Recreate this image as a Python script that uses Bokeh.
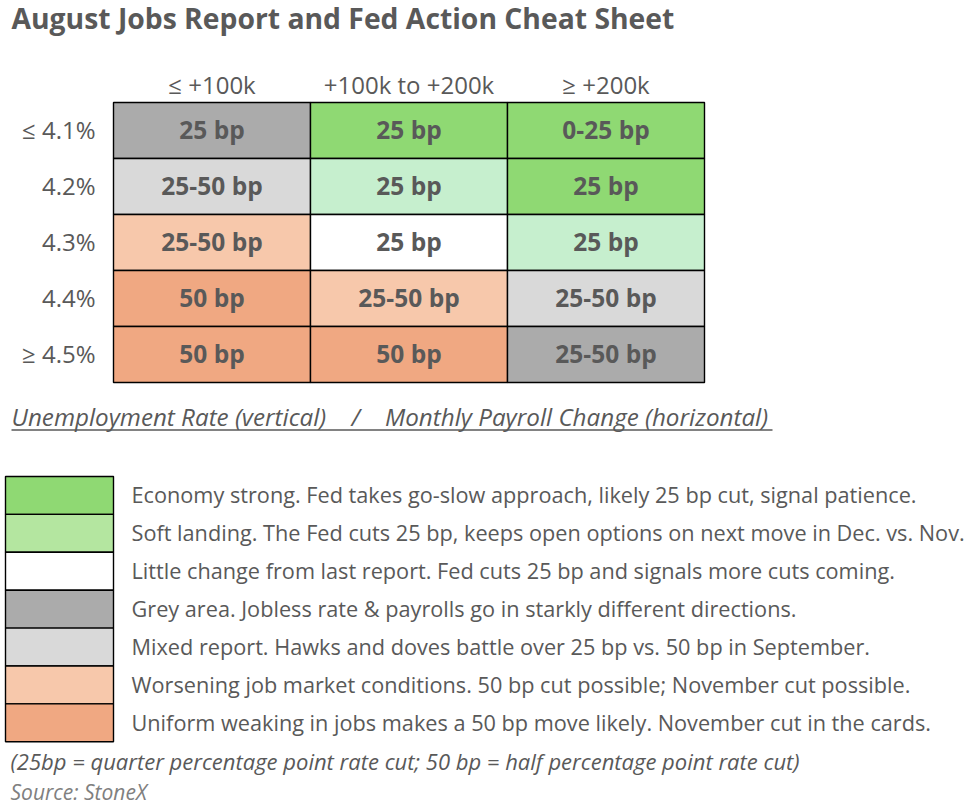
from bokeh.plotting import figure
from bokeh.models import Range1d
from bokeh.embed import file_html
from bokeh.resources import INLINE
from bokeh.core.properties import value

# ---------------- data ----------------
title = "August Jobs Report and Fed Action Cheat Sheet"
payroll_bins = ["\u2264 +100k", "+100k to +200k", "\u2265 +200k"]
rate_bins = ["\u2264 4.1%", "4.2%", "4.3%", "4.4%", "\u2265 4.5%"]
cell_labels = [
    ["25 bp", "25 bp", "0-25 bp"],
    ["25-50 bp", "25 bp", "25 bp"],
    ["25-50 bp", "25 bp", "25 bp"],
    ["50 bp", "25-50 bp", "25-50 bp"],
    ["50 bp", "50 bp", "25-50 bp"],
]
# scenario codes: 0 strong, 1 soft landing, 2 little change, 3 grey area, 4 mixed, 5 worsening, 6 uniform weakening
cell_scenarios = [
    [3, 0, 0],
    [4, 1, 0],
    [5, 2, 1],
    [6, 5, 4],
    [6, 6, 3],
]
table_colors = ["#8fd973", "#c6efce", "#ffffff", "#ababab", "#d9d9d9", "#f7c8ab", "#f0a882"]
legend_colors = ["#8fd973", "#b4e6a0", "#ffffff", "#ababab", "#d9d9d9", "#f7c8ab", "#f0a882"]
legend_texts = [
    "Economy strong. Fed takes go-slow approach, likely 25 bp cut, signal patience.",
    "Soft landing. The Fed cuts 25 bp, keeps open options on next move in Dec. vs. Nov.",
    "Little change from last report. Fed cuts 25 bp and signals more cuts coming.",
    "Grey area. Jobless rate & payrolls go in starkly different directions.",
    "Mixed report. Hawks and doves battle over 25 bp vs. 50 bp in September.",
    "Worsening job market conditions. 50 bp cut possible; November cut possible.",
    "Uniform weaking in jobs makes a 50 bp move likely. November cut in the cards.",
]
axes_note = ("Unemployment Rate (vertical)\u00a0\u00a0\u00a0\u00a0/"
             "\u00a0\u00a0\u00a0\u00a0Monthly Payroll Change (horizontal)")
footnote = "(25bp = quarter percentage point rate cut; 50 bp = half percentage point rate cut)"
source = "Source: StoneX"

# ---------------- layout (picture pixel coordinates) ----------------
W, H = 966, 804
FONT = "Open Sans"
TXT = "#595959"

p = figure(width=W, height=H, x_range=Range1d(0, W), y_range=Range1d(H, 0),
           output_backend="svg", toolbar_location=None, min_border=0,
           outline_line_color=None, background_fill_color="white")
p.axis.visible = False
p.grid.visible = False

# title
p.text(x=[11], y=[17], text=[title], text_font=value(FONT), text_font_style="bold",
       text_font_size="28.3px", text_color=TXT, text_baseline="middle", text_align="left")

# table grid
t_left, t_top, col_w, row_h = 113, 102, 197, 56
lefts, rights, tops, bottoms, fills, cx, cy, labs = [], [], [], [], [], [], [], []
for r, row in enumerate(cell_labels):
    for c, lab in enumerate(row):
        lefts.append(t_left + c * col_w)
        rights.append(t_left + (c + 1) * col_w)
        tops.append(t_top + r * row_h)
        bottoms.append(t_top + (r + 1) * row_h)
        fills.append(table_colors[cell_scenarios[r][c]])
        cx.append(t_left + (c + 0.5) * col_w)
        cy.append(t_top + (r + 0.5) * row_h - 1)
        labs.append(lab)
p.quad(left=lefts, right=rights, top=tops, bottom=bottoms, fill_color=fills,
       line_color="black", line_width=1.4)
p.text(x=cx, y=cy, text=labs, text_font=value(FONT), text_font_style="bold",
       text_font_size="24.5px", text_color=TXT, text_align="center", text_baseline="middle")

# column headers
p.text(x=[t_left + (c + 0.5) * col_w for c in range(len(payroll_bins))],
       y=[83.5] * len(payroll_bins), text=payroll_bins, text_font=value(FONT),
       text_font_size="24px", text_color=TXT, text_align="center", text_baseline="middle")
# row headers
p.text(x=[95] * len(rate_bins), y=[t_top + (r + 0.5) * row_h - 1 for r in range(len(rate_bins))],
       text=rate_bins, text_font=value(FONT), text_font_size="24px", text_color=TXT,
       text_align="right", text_baseline="middle")

# axes note (italic, underlined)
p.text(x=[11], y=[416], text=[axes_note], text_font=value(FONT), text_font_style="italic",
       text_font_size="24.2px", text_color=TXT, text_align="left", text_baseline="middle")
p.segment(x0=[11], y0=[429.5], x1=[772], y1=[429.5], line_color=TXT, line_width=1.3)

# legend
l_left, l_right, l_top, l_h = 5, 113, 476, 37.9
n = len(legend_colors)
p.quad(left=[l_left] * n, right=[l_right] * n,
       top=[l_top + i * l_h for i in range(n)], bottom=[l_top + (i + 1) * l_h for i in range(n)],
       fill_color=legend_colors, line_color="black", line_width=1.4)
p.text(x=[131] * n, y=[l_top + (i + 0.5) * l_h - 0.5 for i in range(n)], text=legend_texts,
       text_font=value(FONT), text_font_size="21.7px", text_color=TXT,
       text_align="left", text_baseline="middle")

# footnotes
p.text(x=[10], y=[760], text=[footnote], text_font=value(FONT), text_font_style="italic",
       text_font_size="22px", text_color=TXT, text_align="left", text_baseline="middle")
p.text(x=[10], y=[791], text=[source], text_font=value(FONT), text_font_style="italic",
       text_font_size="21px", text_color="#808080", text_align="left", text_baseline="middle")

open("out.html", "w").write(file_html(p, INLINE))
